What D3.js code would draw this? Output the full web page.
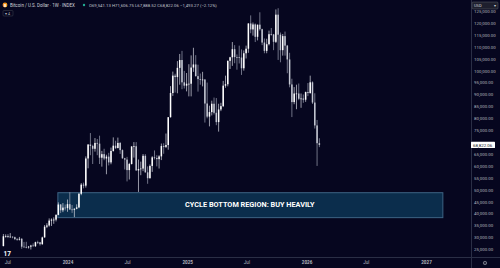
<!DOCTYPE html>
<html>
<head>
<meta charset="utf-8">
<script src="https://cdn.jsdelivr.net/npm/d3@7"></script>
<style>
  html, body { margin: 0; padding: 0; background: #06061f; }
  svg { display: block; font-family: Roboto, "Liberation Sans", sans-serif; }
</style>
</head>
<body>
<svg id="chart" width="500" height="268"></svg>
<script>
// weekly candles, first bar opens on Monday 2023-06-19
const firstWeek = "2023-06-19";

const opens = [
  26340,30470,30600,30170,30290,30080,29300,29050,29400,26100,26000,25840,26100,26570,26300,27990,27930,27150,29990,34500,35000,37050,37450,37450,39450,43800,41380,42500,
  42280,43950,41730,41580,42030,42580,48300,52140,51730,63130,68960,68400,67200,69650,69360,63450,64940,63120,63900,61480,66270,68500,67490,69650,66640,63200,62670,58250,60800,68170,68260,58100,58700,58900,64250,57300,54850,59990,63600,63330,62850,64000,68350,68000,68770,80450,90600,97900,97300,101170,104460,95100,93700,
  94500,94500,101300,102600,97700,96450,96150,96250,86200,80700,82600,86100,82300,78400,83700,85100,93700,94300,104100,105600,109000,105700,105600,105500,101000,107300,109200,119800,117300,119400,114200,119300,117400,111800,108300,111100,115300,115200,112100,123500,115100,108600,114500,110500,104700,94200,86800,90400,90400,88200,88300,87800,
  91000,90600,95100,86600,77000,69541.13
];
const highs = [
  31430,31280,31380,31800,30440,30330,29700,30200,29700,28100,28150,26400,26880,27480,28200,28600,28100,30300,35200,35950,37970,37970,38400,39700,44700,44000,44400,43800,
  45900,48970,43600,42200,43880,48600,52800,52980,64000,69200,73800,68900,71700,71300,72700,66300,67200,64700,65500,67700,71980,70600,71900,70000,66950,63400,63800,61300,68300,70000,70000,62700,61800,65000,64950,59800,60600,64100,66500,64500,64500,69400,69500,73600,80500,93500,99600,98700,104000,107000,108300,99900,99000,
  102700,106400,109600,106500,102500,98800,99500,96500,95000,85300,87400,88700,88500,86100,86500,95700,97900,104300,105800,112000,110700,106800,110500,108900,108500,110500,119900,123200,120200,119800,119300,124500,117600,113500,113400,116800,117900,115400,125700,126200,116000,115400,116400,110800,107500,96600,93100,94100,94600,90400,90000,91200,
  94800,97900,95500,90500,79300,71606.75
];
const lows = [
  26260,29900,29700,30000,29600,28860,28600,28700,25200,25800,25400,25300,24900,26250,26000,27200,26550,26900,29900,33900,34500,34800,35700,36700,39300,40200,40600,41300,
  40750,41500,40280,38500,41800,42250,47700,50600,50900,59000,64500,60800,66000,64500,60800,59700,62400,56500,60200,60700,66000,67100,67400,65050,63000,58500,53500,54300,60600,63500,58000,49100,56100,57800,57200,52500,54700,57500,62700,59800,58900,62450,65100,67500,66800,80300,89400,90800,90500,94100,92200,92500,91300,
  89200,89200,99500,97500,91200,94100,93400,78200,80000,76600,81200,81600,77100,74400,83000,84700,92800,93400,100700,102000,103100,100400,103000,98200,100000,105100,107500,115700,114700,112000,112700,116800,110700,107300,107300,110600,114700,108600,111600,104500,103500,106300,106300,98900,93000,80500,85900,83800,87600,84400,86500,86900,
  89300,90300,86000,75700,60000,67888.52
];
const closes = [
  30470,30600,30170,30290,30080,29300,29050,29400,26100,26000,25840,26100,26570,26300,27990,27930,27150,29990,34500,35000,37050,37450,37450,39450,43800,41380,42500,42280,
  43950,41730,41580,42030,42580,48300,52140,51730,63130,68960,68400,67200,69650,69360,63450,64940,63120,63900,61480,66270,68500,67490,69650,66640,63200,62670,58250,60800,68170,68260,58100,58700,58900,64250,57300,54850,59990,63600,63330,62850,64000,68350,68000,68770,80450,90600,97900,97300,101170,104460,95100,93700,94500,
  94500,101300,102600,97700,96450,96150,96250,86200,80700,82600,86100,82300,78400,83700,85100,93700,94300,104100,105600,109000,105700,105600,105500,101000,107300,109200,119800,117300,119400,114200,119300,117400,111800,108300,111100,115300,115200,112100,123500,115100,108600,114500,110500,104700,94200,86800,90400,90400,88200,88300,87800,91000,
  90600,95100,86600,77000,69541.13,68822.06
];

const priceTicks = d3.range(25000, 125001, 5000);
const timeTicks = ["2023-07-01","2024-01-01","2024-07-01","2025-01-01","2025-07-01","2026-01-01","2026-07-01","2027-01-01"];

const zone = { from: "2023-12-01", to: "2027-02-20", low: 38500, high: 48970, label: "CYCLE BOTTOM REGION: BUY HEAVILY" };

const W = 500, H = 268;
const plotRight = 471, plotBottom = 257;
const bg = "#06061f", txt = "#b2b5be", grid = "#2a2e45";

const parse = d3.utcParse("%Y-%m-%d");
const start = parse(firstWeek);
const bars = closes.map((c, i) => ({
  t: d3.utcWeek.offset(start, i),
  o: opens[i], h: highs[i], l: lows[i], c: c
}));
const last = bars[bars.length - 1];

const x = d3.scaleUtc()
  .domain([parse("2024-01-01"), parse("2027-01-01")])
  .range([67.5, 426]);
const y = d3.scaleLinear()
  .domain([25000, 120000])
  .range([249.3, 23]);

const svg = d3.select("#chart");
svg.append("rect").attr("width", W).attr("height", H).attr("fill", bg);

const plot = svg.append("g");
plot.append("clipPath").attr("id", "clip")
  .append("rect").attr("width", plotRight).attr("height", plotBottom);
const inner = plot.append("g").attr("clip-path", "url(#clip)");

// zone box
inner.append("rect")
  .attr("x", x(parse(zone.from)) + 0.5)
  .attr("y", y(zone.high) + 0.5)
  .attr("width", x(parse(zone.to)) - x(parse(zone.from)))
  .attr("height", y(zone.low) - y(zone.high))
  .attr("fill", "#0b2d4c")
  .attr("stroke", "#3d6384")
  .attr("stroke-width", 1);
inner.append("text")
  .attr("x", (x(parse(zone.from)) + x(parse(zone.to))) / 2)
  .attr("y", (y(zone.high) + y(zone.low)) / 2 + 2.5)
  .attr("text-anchor", "middle")
  .attr("fill", "#ffffff")
  .attr("font-size", 7.3)
  .attr("font-weight", "bold")
  .text(zone.label);

// candles
const bw = 1.5;
const candle = inner.selectAll("g.bar").data(bars).enter().append("g").attr("class", "bar");
candle.append("line")
  .attr("x1", d => x(d.t)).attr("x2", d => x(d.t))
  .attr("y1", d => y(d.h)).attr("y2", d => y(d.l))
  .attr("stroke", d => d.c >= d.o ? "#d8dae2" : "#9ea2b3")
  .attr("stroke-width", 0.7);
candle.append("rect")
  .attr("x", d => x(d.t) - bw / 2)
  .attr("y", d => y(Math.max(d.o, d.c)))
  .attr("width", bw)
  .attr("height", d => Math.max(0.7, Math.abs(y(d.o) - y(d.c))))
  .attr("fill", d => d.c >= d.o ? "#ffffff" : "#c4c7d2");

// axes frame
svg.append("line").attr("x1", plotRight + 0.5).attr("x2", plotRight + 0.5)
  .attr("y1", 0).attr("y2", H).attr("stroke", grid).attr("stroke-width", 1);
svg.append("line").attr("x1", 0).attr("x2", W)
  .attr("y1", plotBottom + 0.5).attr("y2", plotBottom + 0.5).attr("stroke", grid).attr("stroke-width", 1);

// price axis (labels under the last-price tag are hidden, as in the app)
const shownTicks = priceTicks.filter(v => Math.abs(y(v) - y(last.c)) > 5);
const yAxis = d3.axisRight(y).tickValues(shownTicks).tickSize(0).tickPadding(3)
  .tickFormat(d3.format(",.2f"));
const gy = svg.append("g").attr("transform", `translate(${plotRight},0)`).call(yAxis);
gy.select(".domain").remove();
gy.selectAll("text").attr("fill", txt).attr("font-size", 4.4).attr("font-family", "Roboto, sans-serif");

// time axis
const fmtTime = d => d.getUTCMonth() === 0 ? d3.utcFormat("%Y")(d) : d3.utcFormat("%b")(d);
const xAxis = d3.axisBottom(x).tickValues(timeTicks.map(parse)).tickSize(0).tickPadding(4).tickFormat(fmtTime);
const gx = svg.append("g").attr("transform", `translate(0,${plotBottom})`).call(xAxis);
gx.select(".domain").remove();
gx.selectAll("text").attr("fill", txt).attr("font-size", 4.6).attr("font-family", "Roboto, sans-serif")
  .attr("font-weight", d => d.getUTCMonth() === 0 ? "bold" : "normal");

// last price label
svg.append("rect").attr("x", plotRight).attr("y", y(last.c) - 3.2).attr("width", 24).attr("height", 6.4)
  .attr("fill", "#ffffff").attr("rx", 0.6);
svg.append("text").attr("x", plotRight + 2).attr("y", y(last.c) + 1.6)
  .attr("fill", "#131722").attr("font-size", 4.4).text(d3.format(",.2f")(last.c));

// currency box
svg.append("rect").attr("x", 472).attr("y", 2).attr("width", 26).attr("height", 7)
  .attr("fill", "#1e1f2e").attr("stroke", "#5d606b").attr("stroke-width", 0.5).attr("rx", 1);
svg.append("text").attr("x", 474).attr("y", 7).attr("fill", "#d1d4dc").attr("font-size", 4).text("USD");
svg.append("text").attr("x", 494).attr("y", 7).attr("fill", "#d1d4dc").attr("font-size", 3.5).text("▾");

// gear icon
svg.append("circle").attr("cx", 485).attr("cy", 263).attr("r", 1.7)
  .attr("fill", "none").attr("stroke", txt).attr("stroke-width", 0.6);
svg.append("circle").attr("cx", 485).attr("cy", 263).attr("r", 0.6).attr("fill", txt);

// header
svg.append("circle").attr("cx", 5).attr("cy", 5).attr("r", 2.4).attr("fill", "#f7931a");
svg.append("text").attr("x", 4.1).attr("y", 6.5).attr("fill", "#fff").attr("font-size", 3.6).attr("font-weight", "bold").text("B");
svg.append("text").attr("x", 10).attr("y", 6.6).attr("fill", "#d1d4dc").attr("font-size", 4.5)
  .text("Bitcoin / U.S. Dollar · 1W · INDEX");
svg.append("circle").attr("cx", 84).attr("cy", 5).attr("r", 1.2).attr("fill", "#22ab94");
svg.append("text").attr("x", 89).attr("y", 6.6).attr("fill", "#c0c3cc").attr("font-size", 4.3)
  .text("O69,541.13 H71,606.75 L67,888.52 C68,822.06 −1,493.27 (−2.12%)");
svg.append("rect").attr("x", 3).attr("y", 10.5).attr("width", 10).attr("height", 5.5)
  .attr("fill", "none").attr("stroke", "#434651").attr("stroke-width", 0.5).attr("rx", 1);
svg.append("text").attr("x", 5).attr("y", 14.6).attr("fill", "#b2b5be").attr("font-size", 3.6).text("▾ 4");

// logo
svg.append("text").attr("x", 3.5).attr("y", 255.5).attr("fill", "#ffffff")
  .attr("font-size", 6.5).attr("font-weight", "bold").text("17");
</script>
</body>
</html>
